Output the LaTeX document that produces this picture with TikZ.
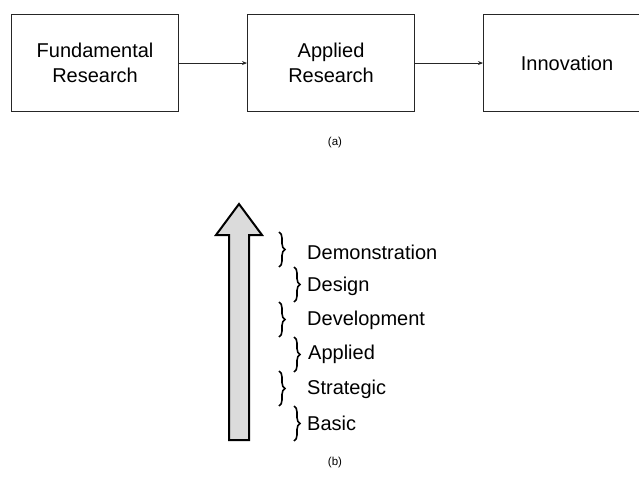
\documentclass[tikz,border=0pt]{standalone}
\usepackage{fontspec}
\setmainfont{Liberation Sans}
\usetikzlibrary{arrows.meta,decorations.pathreplacing}
\begin{document}
\begin{tikzpicture}[x=1pt,y=-1pt,
  stage/.style={draw=black!85,line width=1.1pt,minimum width=167pt,minimum height=97pt,
    inner sep=0pt,align=center,font=\fontsize{20}{25}\selectfont,anchor=north west},
  flow/.style={draw=black!85,line width=0.9pt,-{Stealth[length=5pt,width=4pt]}},
  caption/.style={font=\fontsize{11.5}{13}\selectfont},
  level/.style={anchor=west,inner sep=0pt,font=\fontsize{20}{24}\selectfont},
  bracket/.style={draw=black,line width=1.6pt,decorate,decoration={brace,amplitude=6pt}},
  uparrow/.style={draw=black,line width=2pt,fill=black!14,line join=miter}]
\useasboundingbox (0,0) rectangle (639,481);

% (a) linear model
\node[stage] (fr) at (11,14) {Fundamental\\Research};
\node[stage] (ar) at (247,14) {Applied\\Research};
\node[stage] (in) at (483,14) {Innovation};
\draw[flow] (fr.east) -- (ar.west);
\draw[flow] (ar.east) -- (in.west);
\node[caption] (capa) at (335,143) {(a)};

% (b) staged model
\draw[uparrow] (229,440) -- (229,235) -- (216,235) -- (239,204) -- (262,235)
  -- (249,235) -- (249,440) -- cycle;

\node[level] (l1) at (307,252) {Demonstration};
\node[level] (l2) at (307,286) {Design};
\node[level] (l3) at (307,320) {Development};
\node[level] (l4) at (308,354) {Applied};
\node[level] (l5) at (307,389) {Strategic};
\node[level] (l6) at (307,423) {Basic};

\coordinate (b1t) at (279,232); \coordinate (b1b) at (279,267);
\coordinate (b2t) at (294,267); \coordinate (b2b) at (294,302);
\coordinate (b3t) at (279,302); \coordinate (b3b) at (279,337);
\coordinate (b4t) at (294,337); \coordinate (b4b) at (294,372);
\coordinate (b5t) at (279,371); \coordinate (b5b) at (279,406);
\coordinate (b6t) at (294,406); \coordinate (b6b) at (294,441);
\foreach \i in {1,...,6}
  \draw[bracket] (b\i t) -- (b\i b);

\node[caption] (capb) at (335,463) {(b)};
\end{tikzpicture}
\end{document}
